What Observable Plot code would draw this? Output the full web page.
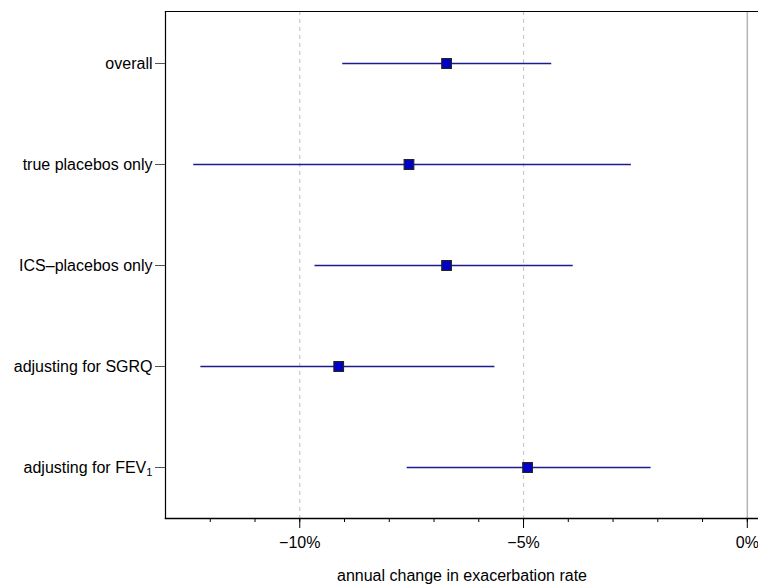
<!DOCTYPE html>
<html>
<head>
<meta charset="utf-8">
<script src="https://cdn.jsdelivr.net/npm/d3@7"></script>
<script src="https://cdn.jsdelivr.net/npm/@observablehq/plot@0.6"></script>
<style>
  html, body { margin: 0; padding: 0; background: #fff; }
  #chart { width: 758px; height: 587px; overflow: hidden; }
</style>
</head>
<body>
<div id="chart"></div>
<script>
// Estimates of annual change in exacerbation rate (%), with confidence limits
const labels = ["overall", "true placebos only", "ICS–placebos only", "adjusting for SGRQ", "adjusting for FEV₁"];
const estimate = [-6.72, -7.56, -6.72, -9.13, -4.91];
const lower = [-9.04, -12.37, -9.66, -12.21, -7.60];
const upper = [-4.37, -2.59, -3.89, -5.64, -2.15];
const majorTicks = [-10, -5, 0];
const minorTicks = [-12, -11, -10, -9, -8, -7, -6, -5, -4, -3, -2, -1, 0];
const dashedGrid = [-10, -5];
const zeroLine = [0];

const data = labels.map((label, i) => ({label, est: estimate[i], lo: lower[i], hi: upper[i]}));
const fmt = d => d === 0 ? "0%" : "\u2212" + Math.abs(d) + "%";
const FS = 16;

const chart = Plot.plot({
  width: 758,
  height: 587,
  marginTop: 11,
  marginBottom: 69,
  marginLeft: 165,
  marginRight: 0,
  style: {fontFamily: "'Liberation Sans', Arial, Helvetica, sans-serif", fontSize: FS + "px", color: "#000", background: "#fff"},
  x: {domain: [-13, 0.25]},
  y: {type: "point", domain: labels, padding: 0.49},
  marks: [
    Plot.ruleX(dashedGrid, {stroke: "#c8c8c8", strokeWidth: 1.2, strokeDasharray: "4,4"}),
    Plot.ruleX(zeroLine, {stroke: "#b4b4b4", strokeWidth: 1.5}),
    Plot.frame({anchor: "left", stroke: "#000", strokeWidth: 1.2}),
    Plot.frame({anchor: "top", stroke: "#000", strokeWidth: 1.2}),
    Plot.frame({anchor: "bottom", stroke: "#000", strokeWidth: 1.5}),
    Plot.axisX({ticks: minorTicks, tickSize: 4, tickFormat: () => "", label: null, stroke: "#000"}),
    Plot.axisX({ticks: majorTicks, tickSize: 10, tickPadding: 8, tickFormat: fmt, stroke: "#000", fontSize: FS,
      label: "annual change in exacerbation rate", labelAnchor: "center", labelArrow: "none", labelOffset: 62}),
    Plot.axisY({tickSize: 10, tickPadding: 3, label: null, stroke: "#555", fontSize: FS}),
    Plot.ruleY(data, {y: "label", x1: "lo", x2: "hi", stroke: "#1c1c8e", strokeWidth: 1.6}),
    Plot.dot(data, {y: "label", x: "est", symbol: "square", r: 5.4, fill: "#0000cc", stroke: "#222", strokeWidth: 1.2})
  ]
});

// render FEV₁ subscript as a real subscript
chart.querySelectorAll("text").forEach(t => {
  if (t.textContent.includes("FEV₁")) {
    const base = t.textContent.replace("₁", "");
    t.textContent = base;
    const sub = document.createElementNS("http://www.w3.org/2000/svg", "tspan");
    sub.setAttribute("font-size", "0.7em");
    sub.setAttribute("dy", "0.3em");
    sub.textContent = "1";
    t.appendChild(sub);
  }
});

document.getElementById("chart").appendChild(chart);
</script>
</body>
</html>
